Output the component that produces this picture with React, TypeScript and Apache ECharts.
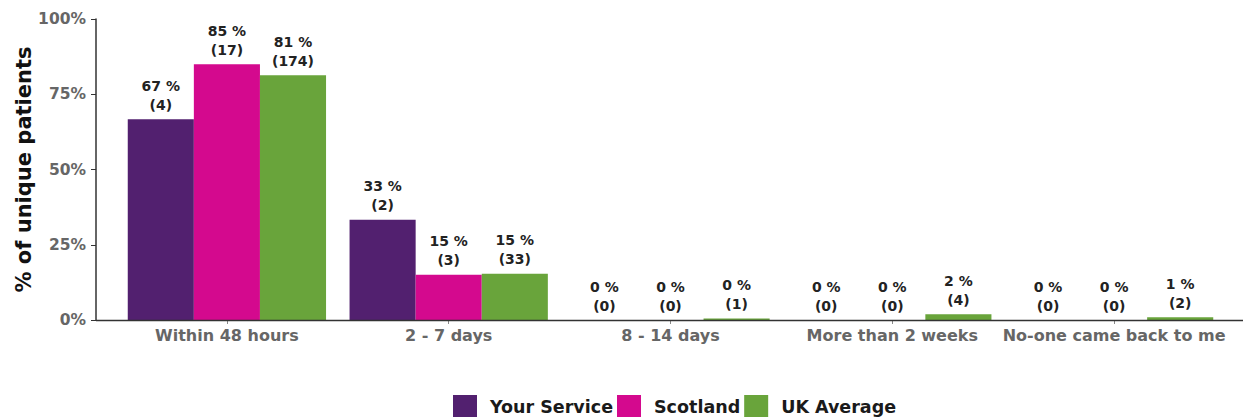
import React, { useEffect, useRef } from "react";
import * as echarts from "echarts";

const categories = ["Within 48 hours", "2 - 7 days", "8 - 14 days", "More than 2 weeks", "No-one came back to me"];
const seriesNames = ["Your Service", "Scotland", "UK Average"];
const yourServicePct = [66.7, 33.3, 0, 0, 0];
const scotlandPct = [85, 15, 0, 0, 0];
const ukPct = [81.3, 15.4, 0.47, 1.87, 0.93];
const yourServiceN = [4, 2, 0, 0, 0];
const scotlandN = [17, 3, 0, 0, 0];
const ukN = [174, 33, 1, 4, 2];
const yTicks = [0, 25, 50, 75, 100];
const colors = ["#52206F", "#D4098E", "#69A43B"];

const FONT = "'DejaVu Sans', sans-serif";

export default function App() {
  const ref = useRef<HTMLDivElement>(null);
  useEffect(() => {
    if (!ref.current) return;
    const chart = echarts.init(ref.current, undefined, { renderer: "svg" });
    const pcts = [yourServicePct, scotlandPct, ukPct];
    const counts = [yourServiceN, scotlandN, ukN];
    chart.setOption({
      animation: false,
      textStyle: { fontFamily: FONT },
      grid: { left: 116, right: 18, top: 19, bottom: 97, containLabel: false },
      legend: {
        data: seriesNames,
        left: 453,
        top: 395,
        padding: 0,
        itemWidth: 24,
        itemHeight: 24,
        itemGap: 4,
        icon: "rect",
        textStyle: { fontFamily: FONT, fontWeight: "bold", fontSize: 17.5, color: "#1a1a1a", padding: [0, 0, 0, 8] },
      },
      xAxis: {
        type: "category",
        data: categories,
        axisLine: { show: false },
        axisTick: { show: true, alignWithLabel: true, length: 4, lineStyle: { color: "#888" } },
        axisLabel: { interval: 0, fontFamily: FONT, fontWeight: "bold", fontSize: 16, color: "#666", margin: 7 },
      },
      yAxis: {
        type: "value",
        min: 0,
        max: 100,
        interval: 25,
        offset: 20,
        name: "% of unique patients",
        nameLocation: "middle",
        nameGap: 62,
        nameMoveOverlap: false,
        nameTextStyle: { fontFamily: FONT, fontWeight: "bold", fontSize: 21, color: "#111" },
        axisLine: { show: true, lineStyle: { color: "#333", width: 1.5 } },
        axisTick: { show: true, length: 5, lineStyle: { color: "#333" } },
        splitLine: { show: false },
        axisLabel: {
          fontFamily: FONT,
          fontWeight: "bold",
          fontSize: 15.5,
          color: "#666",
          margin: 10,
          formatter: (v: number) => (yTicks.includes(v) ? v + "%" : ""),
        },
      },
      graphic: [
        {
          type: "line",
          shape: { x1: 96, y1: 320.5, x2: 1243, y2: 320.5 },
          style: { stroke: "#333", lineWidth: 1.5 },
          z: 100,
        },
      ],
      series: seriesNames.map((name, si) => ({
        name,
        type: "bar",
        barGap: "0%",
        barCategoryGap: "10.6%",
        itemStyle: { color: colors[si] },
        data: pcts[si],
        label: {
          show: true,
          position: "top",
          distance: 5,
          fontFamily: FONT,
          fontWeight: "bold",
          fontSize: 14,
          lineHeight: 19,
          color: "#222",
          formatter: (p: any) => Math.round(p.value) + " %\n(" + counts[si][p.dataIndex] + ")",
        },
      })),
    });
    return () => chart.dispose();
  }, []);
  return <div ref={ref} style={{ width: 1243, height: 417, position: "absolute", left: 0, top: 0 }} />;
}
